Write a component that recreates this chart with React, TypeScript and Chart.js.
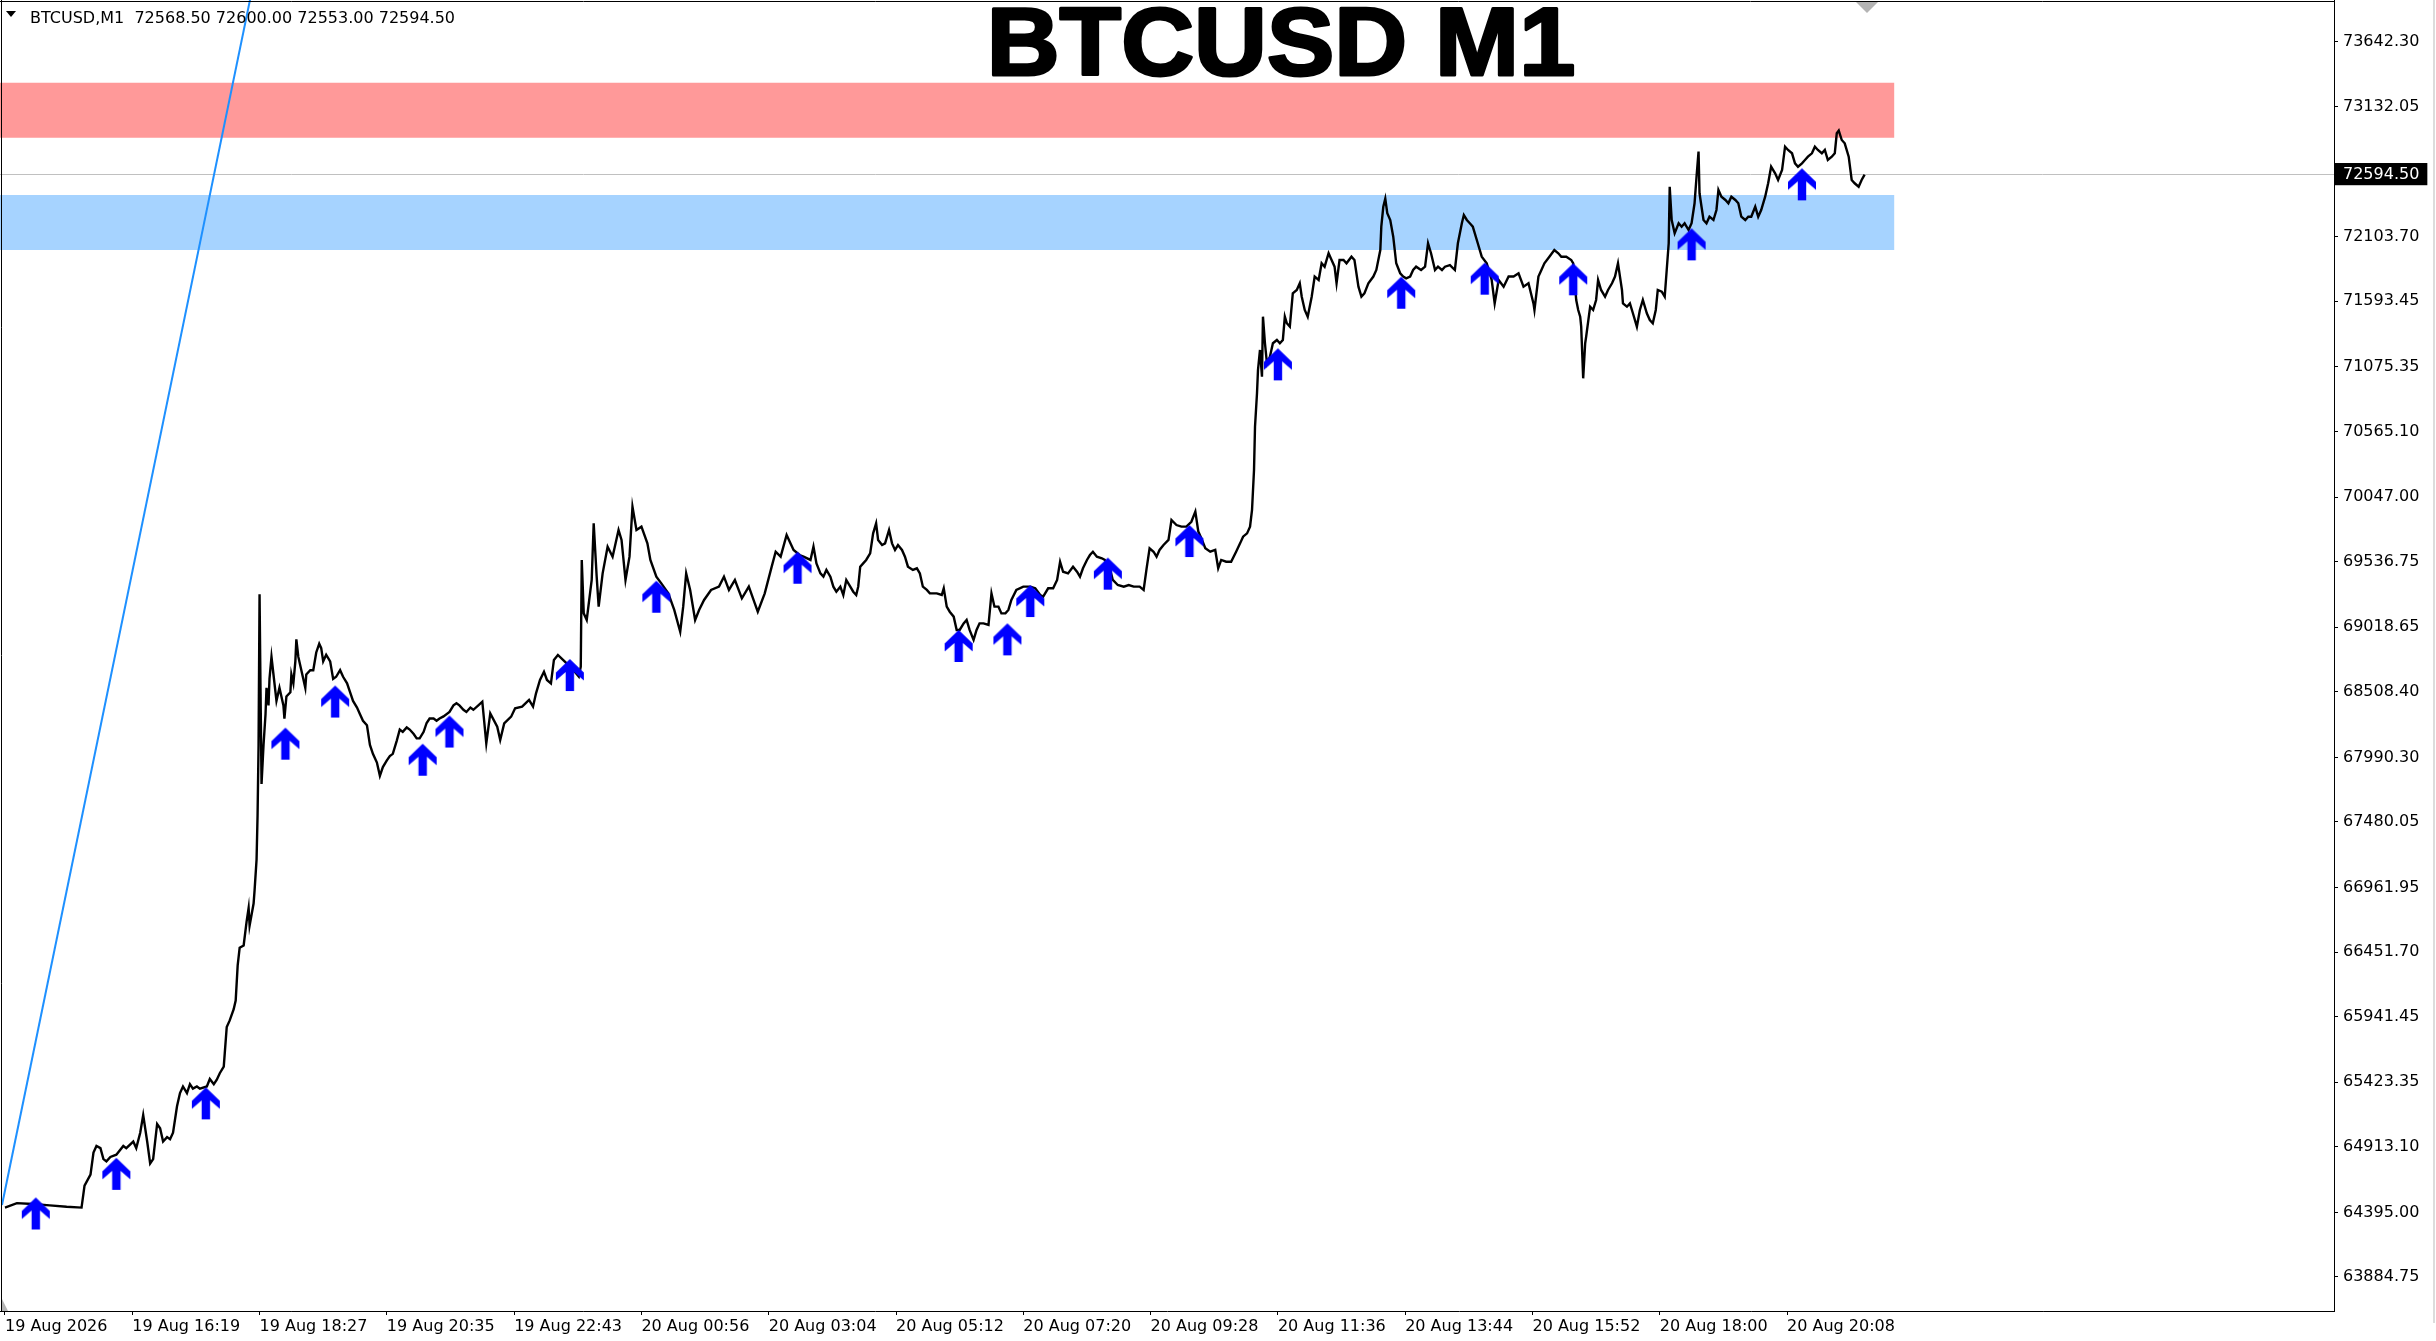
import { useEffect, useRef } from "react";
import { Chart, registerables } from "chart.js";

Chart.register(...registerables);

const CANVAS_W = 2436;
const CANVAS_H = 1341;

const symbolTitle = "BTCUSD M1";
const infoLabel = "BTCUSD,M1  72568.50 72600.00 72553.00 72594.50";

const xTickBars = [0, 128, 256, 384, 512, 640, 768, 896, 1024, 1152, 1280, 1408, 1536, 1664, 1792];
const xTickLabels = [
  "19 Aug 2026", "19 Aug 16:19", "19 Aug 18:27", "19 Aug 20:35", "19 Aug 22:43",
  "20 Aug 00:56", "20 Aug 03:04", "20 Aug 05:12", "20 Aug 07:20", "20 Aug 09:28",
  "20 Aug 11:36", "20 Aug 13:44", "20 Aug 15:52", "20 Aug 18:00", "20 Aug 20:08",
];

const yTickValues = [
  73642.3, 73132.05, 72103.7, 71593.45, 71075.35, 70565.1, 70047.0, 69536.75, 69018.65,
  68508.4, 67990.3, 67480.05, 66961.95, 66451.7, 65941.45, 65423.35, 64913.1, 64395.0, 63884.75,
];
const lastPrice = 72594.5;
const yRange = [63616.1, 73974.1];
const xRange = [-5, 2342];

// price path (bar index from chart start, price)
const pathBars = [
  0, 12, 28, 45, 62, 77, 80, 86, 89, 92, 96, 99, 102, 106, 112, 119, 122, 129, 132, 136, 139, 143, 146, 149, 153, 156, 159, 163, 166, 169,
  173, 176, 179, 183, 186, 189, 193, 196, 203, 206, 210, 213, 216, 220, 221, 223, 226, 230, 232, 234, 236, 240, 243, 245, 246, 250, 251, 253, 254, 255,
  256, 257, 258, 260, 262, 263, 265, 266, 268, 270, 272, 273, 276, 280, 281, 283, 287, 288, 290, 292, 293, 295, 297, 300, 302, 303, 307, 310, 313, 316,
  318, 320, 323, 327, 330, 333, 337, 340, 344, 347, 350, 354, 357, 360, 364, 367, 370, 374, 377, 380, 384, 387, 390, 394, 397, 400, 404, 407, 411, 414,
  417, 421, 424, 427, 431, 434, 437, 441, 447, 451, 454, 457, 461, 464, 468, 471, 476,
  480, 484, 488, 495, 498, 502, 509, 513, 520, 527, 531, 534, 538, 542, 545, 549, 552, 556, 563, 570, 577, 579, 580, 582, 585, 590, 592, 595, 597, 601,
  606, 611, 617, 620, 624, 628, 631, 635, 640, 646, 649, 655, 660, 667, 673, 679, 682, 685, 689, 694, 698, 703, 710, 718, 723, 728, 734, 741, 748, 754,
  757, 764, 771, 775, 780, 786, 793, 799,
  803, 810, 813, 816, 820, 823, 826, 830, 833, 836, 840, 843, 846, 850, 853, 856, 858, 860, 863, 866, 870, 873, 876, 878, 882, 885, 889, 892, 895, 898,
  902, 905, 908, 913, 917, 920, 923, 927, 930, 937, 942, 944, 947, 950, 954, 957, 960, 964, 967, 970, 974, 977, 980, 984, 989, 992, 995, 999, 1002, 1006,
  1009, 1012, 1017, 1024, 1031, 1036, 1041, 1044, 1049, 1054, 1058, 1061, 1064, 1069, 1074, 1078, 1081, 1084, 1088, 1091, 1094, 1098, 1103, 1106, 1111, 1114, 1119, 1125, 1130, 1135,
  1141, 1145, 1148, 1151, 1155, 1158, 1161, 1165, 1170, 1173, 1178, 1183, 1188, 1193, 1197, 1200, 1203, 1207, 1212, 1217, 1220, 1223, 1228, 1233, 1238, 1242,
  1245, 1249, 1252, 1254, 1256, 1257, 1259, 1260, 1262, 1264, 1265, 1267, 1269, 1272, 1275, 1279, 1282, 1285, 1287, 1289, 1292, 1295, 1299, 1302, 1304, 1307, 1310, 1314, 1317, 1321,
  1324, 1327, 1331, 1334, 1337, 1339, 1342, 1346, 1349, 1354, 1357, 1361, 1364, 1367, 1371, 1376, 1379, 1383, 1384, 1386, 1388, 1390, 1393, 1396, 1399, 1403, 1406, 1409, 1413, 1416,
  1419, 1424, 1428, 1431, 1434, 1438, 1441, 1445, 1448, 1453, 1458, 1461, 1465, 1467, 1470, 1473, 1476, 1481, 1485, 1490, 1495, 1498, 1502, 1507, 1512, 1517, 1522, 1527, 1532, 1537,
  1538, 1542, 1545, 1548, 1553, 1558, 1562, 1565, 1570, 1575,
  1577, 1580, 1582, 1584, 1585, 1587, 1589, 1590, 1594, 1597, 1600, 1602, 1605, 1609, 1612, 1616, 1619, 1622, 1624, 1626, 1627, 1631, 1634, 1637, 1641, 1644, 1647, 1651, 1654, 1657,
  1660, 1662, 1666, 1669, 1671, 1673, 1674, 1676, 1679, 1683, 1686, 1689, 1693, 1696, 1699, 1701, 1703, 1704, 1706, 1708, 1711, 1714, 1718, 1721, 1723, 1726, 1730, 1733, 1736, 1740,
  1743, 1746, 1750, 1753, 1756, 1760, 1763, 1766, 1770, 1773, 1776, 1780, 1783, 1787, 1790, 1793, 1797, 1800, 1803, 1807, 1810, 1813, 1817, 1820, 1823, 1827, 1830, 1833, 1837, 1840,
  1842, 1844, 1847, 1850, 1854, 1857, 1860, 1864, 1867, 1870,
];

const pathPrices = [
  64433, 64468, 64461, 64451, 64440, 64433, 64607, 64694, 64868, 64920, 64903, 64816, 64799, 64833, 64851, 64920, 64903, 64955, 64903, 65025, 65164, 64955, 64781, 64816, 65094, 65060, 64955, 64990, 64973, 65025,
  65234, 65338, 65390, 65338, 65408, 65373, 65390, 65373, 65390, 65449, 65408, 65443, 65495, 65547, 65651, 65860, 65912, 66000, 66069, 66347, 66487, 66504, 66695, 66800, 66661, 66835, 66939, 67183, 67531, 68088,
  69278, 68505, 67780, 68088, 68331, 68540, 68401, 68610, 68784, 68645, 68505, 68436, 68540, 68401, 68297, 68471, 68505, 68645, 68575, 68749, 68923, 68784, 68714, 68610, 68540, 68645, 68679, 68679, 68819, 68888,
  68853, 68749, 68801, 68749, 68610, 68627, 68679, 68627, 68575, 68505, 68436, 68384, 68331, 68279, 68244, 68088, 68018, 67949, 67844, 67914, 67966, 68001, 68018, 68123, 68210, 68192, 68227, 68210, 68175, 68140,
  68140, 68192, 68262, 68297, 68297, 68279, 68297, 68314, 68349, 68401, 68418, 68401, 68366, 68349, 68384, 68366, 68401,
  68430, 68101, 68338, 68233, 68128, 68259, 68312, 68378, 68391, 68444, 68391, 68496, 68602, 68667, 68602, 68575, 68760, 68799, 68746, 68694, 68628, 68707, 69550, 69128, 69076, 69392, 69839, 69418, 69181, 69444,
  69655, 69576, 69787, 69708, 69392, 69576, 69971, 69787, 69813, 69681, 69550, 69418, 69365, 69286, 69155, 68983, 69181, 69444, 69313, 69076, 69155, 69234, 69313, 69339, 69418, 69313, 69392, 69247, 69339, 69207,
  69141, 69286, 69497, 69615, 69576, 69747, 69629, 69589,
  69576, 69550, 69655, 69523, 69444, 69418, 69471, 69418, 69339, 69299, 69339, 69273, 69392, 69339, 69299, 69273, 69339, 69497, 69523, 69550, 69602, 69760, 69839, 69708, 69668, 69681, 69787, 69681, 69629, 69668,
  69629, 69576, 69497, 69471, 69484, 69444, 69339, 69313, 69286, 69286, 69273, 69326, 69181, 69141, 69102, 68997, 68997, 69049, 69076, 68997, 68918, 68997, 69049, 69049, 69036, 69286, 69181, 69181, 69128, 69128,
  69155, 69234, 69313, 69339, 69339, 69326, 69273, 69260, 69326, 69326, 69392, 69536, 69457, 69444, 69497, 69457, 69418, 69484, 69550, 69589, 69615, 69576, 69563, 69550, 69484, 69392, 69352, 69339, 69352, 69339,
  69339, 69313, 69484, 69642, 69615, 69576, 69629, 69668, 69708, 69866, 69826, 69813, 69813, 69852, 69932, 69774, 69721, 69642, 69615, 69629, 69484, 69550, 69536, 69536, 69615, 69681,
  69734, 69760, 69813, 69945, 70261, 70603, 70867, 71051, 71209, 70998, 71472, 71262, 71103, 71156, 71262, 71288, 71262, 71288, 71472, 71420, 71393, 71656, 71683, 71736, 71630, 71525, 71472, 71630, 71789, 71762,
  71894, 71867, 71973, 71920, 71867, 71736, 71920, 71920, 71894, 71946, 71920, 71709, 71630, 71656, 71736, 71789, 71841, 71999, 72183, 72340, 72405, 72290, 72236, 72104, 71894, 71815, 71789, 71775, 71789, 71841,
  71867, 71841, 71867, 72052, 71973, 71841, 71867, 71841, 71867, 71880, 71841, 72052, 72210, 72275, 72236, 72210, 72183, 72052, 71946, 71894, 71762, 71577, 71762, 71709, 71789, 71789, 71815, 71709, 71736, 71577,
  71525, 71789, 71841, 71894, 71946, 71999, 71973, 71946, 71946, 71920,
  71894, 71604, 71525, 71472, 71393, 70985, 71262, 71314, 71551, 71525, 71604, 71762, 71683, 71630, 71683, 71736, 71789, 71894, 71789, 71683, 71577, 71551, 71577, 71499, 71393, 71525, 71604, 71499, 71446, 71420,
  71525, 71683, 71670, 71630, 71841, 72052, 72499, 72236, 72131, 72210, 72183, 72210, 72157, 72210, 72368, 72578, 72776, 72447, 72341, 72236, 72210, 72262, 72236, 72315, 72473, 72420, 72394, 72368, 72420, 72394,
  72368, 72262, 72236, 72262, 72262, 72341, 72262, 72315, 72420, 72526, 72657, 72605, 72552, 72631, 72815, 72789, 72763, 72684, 72657, 72684, 72710, 72736, 72763, 72815, 72789, 72763, 72789, 72710, 72736, 72763,
  72921, 72942, 72868, 72842, 72736, 72552, 72526, 72499, 72552, 72594.5,
];

// buy signal arrows (bar index, price at arrow tip)
const signalBars = [31, 112, 202, 282, 332, 420, 447, 568, 655, 797, 959, 1008, 1031, 1109, 1191, 1280, 1404, 1488, 1577, 1696, 1807];
const signalPrices = [64513, 64826, 65383, 68225, 68558, 68098, 68321, 68767, 69386, 69615, 68997, 69049, 69352, 69568, 69826, 71222, 71788, 71899, 71894, 72170, 72644];

// supply / demand zones
const zoneBars = [-10, 1900];
const resistanceZone = [72886, 73321];
const supportZone = [71999, 72433];

// trend line anchors
const trendBars = [-3, 300];
const trendPrices = [64453, 76022];

function makeArrowCanvas(): HTMLCanvasElement {
  const c = document.createElement("canvas");
  c.width = 30;
  c.height = 66;
  const g = c.getContext("2d")!;
  const cx = 15;
  const ty = 33;
  g.fillStyle = "#0000FF";
  g.beginPath();
  g.moveTo(cx, ty);
  g.lineTo(cx + 14, ty + 13.5);
  g.lineTo(cx + 14, ty + 21.5);
  g.lineTo(cx + 4.2, ty + 13);
  g.lineTo(cx + 4.2, ty + 32);
  g.lineTo(cx - 4.2, ty + 32);
  g.lineTo(cx - 4.2, ty + 13);
  g.lineTo(cx - 14, ty + 21.5);
  g.lineTo(cx - 14, ty + 13.5);
  g.closePath();
  g.fill();
  return c;
}

const decorPlugin = {
  id: "mt4decor",
  afterDraw(chart: any) {
    const ctx = chart.ctx as CanvasRenderingContext2D;
    const a = chart.chartArea;
    ctx.save();
    // frame (top + left)
    ctx.strokeStyle = "#000";
    ctx.lineWidth = 1;
    ctx.beginPath();
    ctx.moveTo(a.left, a.top + 1.5);
    ctx.lineTo(a.right, a.top + 1.5);
    ctx.moveTo(a.left + 1.5, a.top);
    ctx.lineTo(a.left + 1.5, a.bottom);
    ctx.stroke();

    // window edge on the right
    ctx.strokeStyle = "#DCDCDC";
    ctx.lineWidth = 2;
    ctx.beginPath();
    ctx.moveTo(chart.width - 2, 0);
    ctx.lineTo(chart.width - 2, chart.height - 18);
    ctx.stroke();

    // chart shift marker
    ctx.fillStyle = "#B4B4B4";
    ctx.beginPath();
    ctx.moveTo(1856, 2);
    ctx.lineTo(1878, 2);
    ctx.lineTo(1867, 13);
    ctx.closePath();
    ctx.fill();
    // bottom-left marker
    ctx.beginPath();
    ctx.moveTo(a.left + 2, a.bottom - 12);
    ctx.lineTo(a.left + 2, a.bottom);
    ctx.lineTo(a.left + 8, a.bottom);
    ctx.closePath();
    ctx.fill();

    // info label
    ctx.fillStyle = "#000";
    ctx.beginPath();
    ctx.moveTo(6, 11);
    ctx.lineTo(16, 11);
    ctx.lineTo(11, 17);
    ctx.closePath();
    ctx.fill();
    ctx.font = '16px "DejaVu Sans"';
    ctx.textAlign = "left";
    ctx.textBaseline = "alphabetic";
    ctx.fillText(infoLabel, 30, 23);

    // big title
    ctx.translate(1281, 75);
    ctx.scale(1.04, 1);
    ctx.font = 'bold 97px "Liberation Sans"';
    ctx.textAlign = "center";
    ctx.lineJoin = "round";
    ctx.lineWidth = 3;
    ctx.strokeStyle = "#000";
    ctx.fillText(symbolTitle, 0, 0);
    ctx.strokeText(symbolTitle, 0, 0);
    ctx.restore();
  },
};

export default function App() {
  const ref = useRef<HTMLCanvasElement | null>(null);

  useEffect(() => {
    const canvas = ref.current;
    if (!canvas) return;
    const arrow = makeArrowCanvas();
    const isLast = (v: any) => v !== undefined && Math.abs(Number(v) - lastPrice) < 1e-6;

    const chart = new Chart(canvas, {
      type: "line",
      data: {
        datasets: [
          {
            label: "resistance",
            data: zoneBars.map((b) => ({ x: b, y: resistanceZone[1] })),
            borderWidth: 0,
            borderColor: "rgba(0,0,0,0)",
            backgroundColor: "#FF9999",
            pointRadius: 0,
            fill: { value: resistanceZone[0] },
            order: 10,
          },
          {
            label: "support",
            data: zoneBars.map((b) => ({ x: b, y: supportZone[1] })),
            borderWidth: 0,
            borderColor: "rgba(0,0,0,0)",
            backgroundColor: "#A6D3FF",
            pointRadius: 0,
            fill: { value: supportZone[0] },
            order: 9,
          },
          {
            label: "trend",
            data: trendBars.map((b, i) => ({ x: b, y: trendPrices[i] })),
            borderColor: "#1E90FF",
            borderWidth: 2,
            pointRadius: 0,
            fill: false,
            order: 3,
          },
          {
            label: "BTCUSD",
            data: pathBars.map((b, i) => ({ x: b, y: pathPrices[i] })),
            borderColor: "#000000",
            borderWidth: 2.4,
            pointRadius: 0,
            tension: 0,
            fill: false,
            order: 2,
          },
          {
            label: "signals",
            data: signalBars.map((b, i) => ({ x: b, y: signalPrices[i] })),
            showLine: false,
            pointStyle: arrow as any,
            pointRadius: 6,
            fill: false,
            order: 1,
          },
        ] as any,
      },
      options: {
        responsive: false,
        animation: false,
        devicePixelRatio: 1,
        events: [],
        layout: { padding: 0, autoPadding: false },
        plugins: {
          legend: { display: false },
          tooltip: { enabled: false },
          title: { display: false },
        },
        scales: {
          x: {
            type: "linear",
            min: xRange[0],
            max: xRange[1],
            afterBuildTicks: (s: any) => {
              s.ticks = xTickBars.map((v) => ({ value: v }));
            },
            afterFit: (s: any) => {
              s.height = 30;
              s.paddingLeft = 0;
              s.paddingRight = 0;
            },
            ticks: {
              autoSkip: false,
              maxRotation: 0,
              minRotation: 0,
              align: "start",
              padding: 2,
              color: "#000",
              font: { family: "DejaVu Sans", size: 16 },
              callback: (_v: any, i: number) => xTickLabels[i],
            },
            grid: { drawOnChartArea: false, tickLength: 4, tickColor: "#000" },
            border: { color: "#000", width: 1 },
          },
          y: {
            type: "linear",
            position: "right",
            min: yRange[0],
            max: yRange[1],
            afterBuildTicks: (s: any) => {
              s.ticks = [...yTickValues, lastPrice].sort((p, q) => q - p).map((v) => ({ value: v }));
            },
            afterFit: (s: any) => {
              s.width = 102;
              s.paddingTop = 0;
              s.paddingBottom = 0;
            },
            ticks: {
              autoSkip: false,
              padding: 5,
              font: { family: "DejaVu Sans", size: 16 },
              callback: (v: any) => Number(v).toFixed(2),
              color: (c: any) => (isLast(c.tick?.value) ? "#FFFFFF" : "#000000"),
              showLabelBackdrop: (c: any) => isLast(c.tick?.value),
              backdropColor: "#000000",
              backdropPadding: { top: 2, bottom: 1, left: 8, right: 8 },
            } as any,
            grid: {
              color: (c: any) => (isLast(c.tick?.value) ? "#C0C0C0" : "rgba(0,0,0,0)"),
              tickColor: (c: any) => (isLast(c.tick?.value) ? "rgba(0,0,0,0)" : "#000000"),
              tickLength: 4,
              lineWidth: 1,
            },
            border: { color: "#000", width: 1 },
          },
        },
      } as any,
      plugins: [decorPlugin],
    });

    return () => {
      chart.destroy();
    };
  }, []);

  return (
    <div style={{ position: "fixed", left: 0, top: 0, width: CANVAS_W, height: CANVAS_H, background: "#fff" }}>
      <canvas ref={ref} width={CANVAS_W} height={CANVAS_H} style={{ display: "block", width: CANVAS_W, height: CANVAS_H }} />
    </div>
  );
}
